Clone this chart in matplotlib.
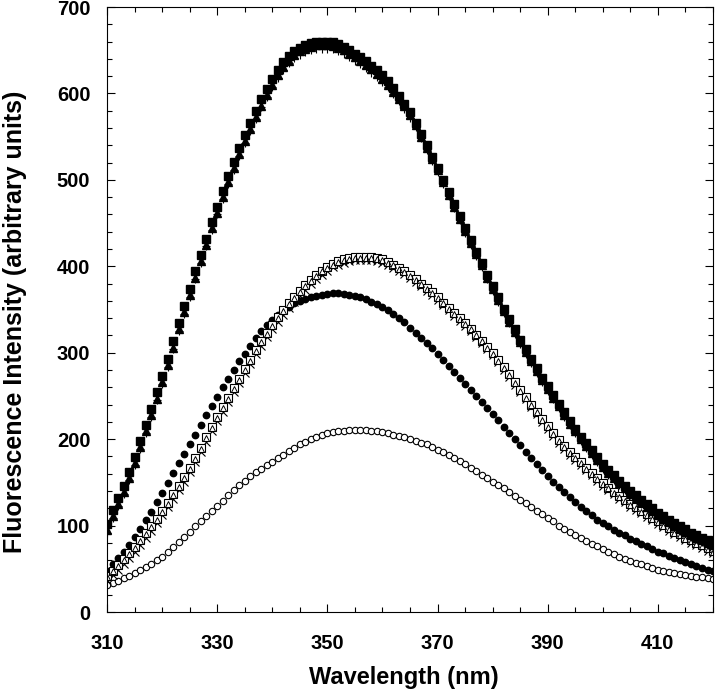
import numpy as np
import matplotlib
matplotlib.use('Agg')
import matplotlib.pyplot as plt
from matplotlib.ticker import MultipleLocator

plt.rcParams['font.family'] = ['Liberation Sans', 'DejaVu Sans']

wavelength = np.arange(310, 421, 1)

# top group
filled_sq = [102, 118, 132, 146, 162, 179, 198, 216, 235, 254,
             273, 293, 313, 334, 354, 374, 394, 413, 432, 451,
             469, 487, 504, 521, 537, 552, 566, 580, 593, 605,
             617, 627, 636, 643, 649, 653, 656, 658, 660, 660,
             660, 659, 657, 654, 650, 646, 642, 637, 632, 627,
             621, 614, 606, 597, 588, 578, 566, 553, 540, 527,
             514, 500, 486, 472, 458, 444, 430, 417, 404, 390,
             377, 364, 351, 339, 327, 315, 304, 293, 282, 271,
             261, 251, 241, 231, 221, 212, 203, 195, 187, 179,
             171, 164, 158, 152, 146, 140, 135, 130, 125, 120,
             115, 111, 107, 103, 99, 96, 92, 89, 86, 83, 80]
filled_tri = [95, 111, 125, 139, 155, 172, 191, 209, 228, 247,
              266, 286, 306, 327, 347, 367, 387, 406, 425, 444,
              462, 480, 497, 514, 530, 545, 559, 573, 586, 598,
              610, 621, 631, 638, 645, 649, 652, 654, 656, 656,
              656, 655, 653, 650, 646, 642, 638, 633, 628, 623,
              617, 610, 602, 594, 585, 575, 563, 550, 537, 524,
              511, 497, 483, 469, 455, 441, 427, 414, 401, 387,
              374, 361, 348, 336, 324, 312, 301, 290, 279, 268,
              258, 248, 238, 228, 218, 209, 200, 192, 184, 176,
              168, 161, 155, 149, 143, 137, 132, 127, 122, 117,
              112, 108, 104, 100, 96, 93, 89, 86, 83, 80, 77]
plus = [92, 109, 123, 137, 153, 170, 189, 207, 226, 245,
        264, 284, 304, 325, 345, 365, 385, 404, 423, 442,
        460, 478, 495, 512, 528, 543, 557, 571, 584, 596,
        608, 618, 627, 635, 641, 645, 648, 650, 652, 652,
        652, 651, 649, 646, 642, 638, 634, 629, 624, 619,
        613, 607, 599, 591, 582, 572, 561, 548, 535, 522,
        509, 495, 481, 467, 453, 439, 425, 412, 399, 385,
        372, 359, 346, 334, 322, 310, 299, 288, 277, 266,
        256, 246, 236, 226, 216, 207, 198, 190, 182, 174,
        166, 159, 153, 147, 141, 135, 130, 125, 120, 115,
        110, 106, 102, 98, 94, 91, 87, 84, 81, 78, 75]

# middle group
open_sq = [42, 48, 54, 61, 68, 75, 83, 91, 99, 108,
           117, 126, 136, 146, 156, 167, 178, 190, 202, 214,
           226, 237, 248, 259, 270, 281, 292, 303, 313, 323,
           332, 341, 349, 357, 364, 371, 378, 384, 390, 395,
           399, 403, 406, 408, 410, 411, 411, 411, 411, 410,
           408, 405, 402, 398, 394, 390, 385, 380, 375, 370,
           364, 358, 352, 346, 340, 334, 328, 321, 314, 307,
           300, 292, 283, 275, 266, 257, 249, 240, 232, 223,
           215, 207, 199, 192, 185, 179, 173, 167, 161, 155,
           149, 144, 139, 134, 130, 125, 121, 117, 113, 109,
           105, 101, 97, 93, 90, 86, 83, 80, 77, 74, 71]
open_tri = [41, 47, 53, 60, 67, 74, 82, 90, 98, 107,
            116, 125, 135, 145, 155, 166, 177, 189, 201, 213,
            225, 236, 247, 258, 269, 280, 291, 302, 312, 322,
            331, 340, 348, 356, 363, 370, 377, 383, 389, 394,
            398, 402, 405, 407, 409, 410, 410, 410, 410, 409,
            407, 404, 401, 397, 393, 389, 384, 379, 374, 369,
            363, 357, 351, 345, 339, 333, 327, 320, 313, 306,
            299, 291, 282, 274, 265, 256, 248, 239, 231, 222,
            214, 206, 198, 191, 184, 178, 172, 166, 160, 154,
            148, 143, 138, 133, 129, 124, 120, 116, 112, 108,
            104, 100, 96, 92, 89, 85, 82, 79, 76, 73, 70]
cross = [37, 43, 49, 56, 63, 70, 78, 86, 94, 103,
         112, 121, 131, 141, 151, 162, 173, 185, 197, 209,
         221, 232, 243, 254, 265, 276, 287, 298, 308, 318,
         327, 336, 344, 352, 359, 366, 373, 379, 385, 390,
         395, 399, 402, 404, 406, 407, 407, 407, 407, 406,
         404, 401, 398, 395, 391, 387, 382, 377, 372, 367,
         361, 355, 349, 343, 337, 331, 325, 318, 311, 304,
         297, 289, 280, 272, 263, 254, 246, 237, 229, 220,
         212, 204, 196, 189, 182, 176, 170, 164, 158, 152,
         146, 141, 136, 131, 127, 122, 118, 114, 110, 106,
         102, 98, 94, 90, 87, 83, 80, 77, 74, 71, 68]

# lower curves
filled_circ = [48, 55, 62, 70, 78, 87, 96, 106, 116, 127,
               138, 149, 161, 172, 183, 194, 205, 216, 228, 238,
               249, 260, 270, 280, 290, 299, 308, 317, 325, 332,
               338, 344, 349, 353, 357, 360, 362, 364, 366, 367,
               368, 369, 369, 368, 367, 366, 364, 362, 359, 356,
               353, 349, 345, 340, 335, 329, 323, 317, 311, 305,
               299, 292, 285, 278, 271, 264, 257, 250, 243, 236,
               229, 222, 214, 207, 200, 193, 185, 178, 171, 164,
               157, 151, 145, 139, 133, 127, 122, 117, 112, 107,
               103, 99, 95, 92, 89, 85, 82, 79, 76, 73,
               70, 68, 65, 63, 60, 58, 55, 53, 51, 49, 47]
open_circ = [31, 33, 36, 39, 42, 45, 49, 52, 56, 60,
             64, 69, 75, 81, 87, 93, 99, 105, 111, 117,
             123, 129, 135, 141, 147, 152, 157, 162, 166, 170,
             174, 178, 182, 186, 190, 194, 197, 200, 203, 205,
             207, 208, 209, 210, 211, 211, 211, 211, 210, 209,
             208, 207, 205, 204, 202, 200, 198, 196, 194, 191,
             188, 185, 182, 178, 175, 171, 167, 163, 159, 155,
             151, 147, 143, 139, 134, 130, 126, 122, 117, 113,
             109, 105, 100, 96, 93, 89, 86, 82, 79, 76,
             73, 70, 67, 64, 61, 59, 57, 55, 53, 51,
             49, 48, 46, 45, 44, 43, 42, 41, 40, 39, 38]

fig = plt.figure(figsize=(7.2, 6.95), dpi=100)
ax = fig.add_axes([0.1486, 0.1194, 0.8417, 0.8705])

ax.plot(wavelength, open_circ, 'o', mfc='white', mec='black', ms=4.6, mew=0.8)
ax.plot(wavelength, filled_circ, 'o', color='black', ms=4.6)
ax.plot(wavelength, cross, 'x', color='black', ms=5.5, mew=0.8)
ax.plot(wavelength, open_sq, 's', mfc='white', mec='black', ms=5.3, mew=0.8)
ax.plot(wavelength, open_tri, '^', mfc='none', mec='black', ms=3.8, mew=0.7)
ax.plot(wavelength, plus, '+', color='black', ms=6, mew=0.8)
ax.plot(wavelength, filled_tri, '^', color='black', ms=5.5)
ax.plot(wavelength, filled_sq, 's', color='black', ms=5.2)

ax.set_xlim(310, 420)
ax.set_ylim(0, 700)
ax.set_xticks([310, 330, 350, 370, 390, 410])
ax.xaxis.set_minor_locator(MultipleLocator(5))
ax.yaxis.set_major_locator(MultipleLocator(100))
ax.yaxis.set_minor_locator(MultipleLocator(20))
ax.tick_params(which='both', direction='in', top=True, right=True, width=0.8)
ax.tick_params(which='major', length=6, labelsize=14.5)
ax.tick_params(axis='x', which='major', pad=16)
ax.tick_params(axis='y', which='major', pad=12)
ax.tick_params(which='minor', length=3.5)
for lab in ax.get_xticklabels() + ax.get_yticklabels():
    lab.set_fontweight('bold')
for s in ax.spines.values():
    s.set_linewidth(0.8)

ax.set_xlabel('Wavelength (nm)', fontsize=17, fontweight='bold')
ax.set_ylabel('Fluorescence Intensity (arbitrary units)', fontsize=18, fontweight='bold')
ax.xaxis.set_label_coords(0.49, -0.09)
ax.yaxis.set_label_coords(-0.132, 0.48)

fig.savefig('out.png', dpi=100)
